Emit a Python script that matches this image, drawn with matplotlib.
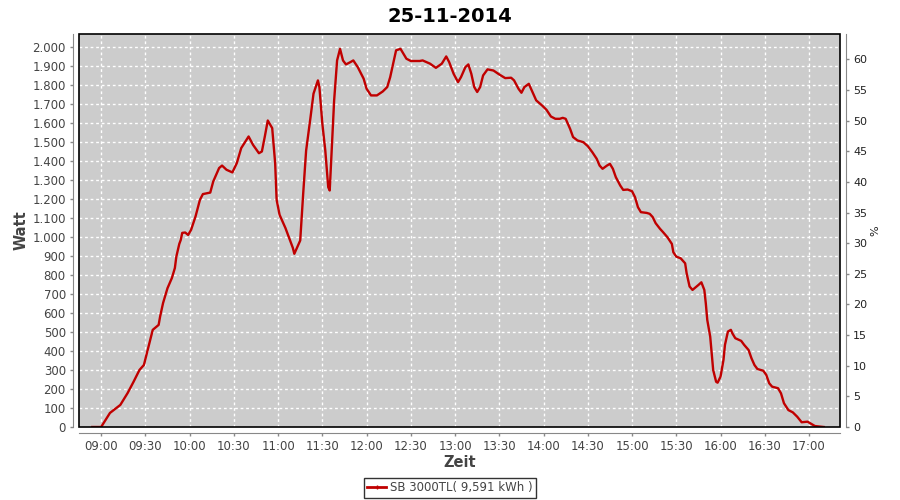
import matplotlib
matplotlib.use("Agg")
import matplotlib.pyplot as plt
from matplotlib.lines import Line2D
from matplotlib.patches import Rectangle
from matplotlib.ticker import FuncFormatter, MultipleLocator

# power readings of the inverter on 25-11-2014 (time of day, watt)
times = [
    "08:54", "09:00", "09:06", "09:13", "09:18", "09:22", "09:26", "09:29",
    "09:31", "09:33", "09:35", "09:39", "09:40", "09:42", "09:45", "09:48",
    "09:50", "09:51", "09:53", "09:54", "09:55", "09:57", "09:59", "10:01",
    "10:04", "10:07", "10:09", "10:14", "10:16", "10:20", "10:22", "10:25",
    "10:29", "10:32", "10:35", "10:40", "10:43", "10:47", "10:49", "10:51",
    "10:53", "10:56", "10:58", "10:59", "11:01", "11:03", "11:05", "11:08",
    "11:10", "11:11", "11:15", "11:17", "11:19", "11:22", "11:24", "11:27",
    "11:28", "11:30", "11:32", "11:34", "11:35", "11:36", "11:38", "11:40",
    "11:42", "11:44", "11:46", "11:49", "11:51", "11:54", "11:58", "12:00",
    "12:03", "12:07", "12:11", "12:14", "12:16", "12:18", "12:20", "12:23",
    "12:25", "12:27", "12:30", "12:36", "12:38", "12:43", "12:47", "12:51",
    "12:54", "12:56", "12:59", "13:02", "13:04", "13:07", "13:09", "13:11",
    "13:13", "13:15", "13:17", "13:19", "13:22", "13:26", "13:30", "13:34",
    "13:38", "13:40", "13:43", "13:45", "13:47", "13:50", "13:52", "13:55",
    "13:59", "14:02", "14:05", "14:08", "14:11", "14:13", "14:15", "14:18",
    "14:20", "14:23", "14:27", "14:30", "14:33", "14:36", "14:38", "14:40",
    "14:43", "14:45", "14:47", "14:49", "14:52", "14:54", "14:57", "15:00",
    "15:02", "15:04", "15:06", "15:10", "15:12", "15:14", "15:16", "15:19",
    "15:21", "15:24", "15:27", "15:28", "15:30", "15:33", "15:36", "15:37",
    "15:39", "15:41", "15:45", "15:47", "15:49", "15:50", "15:51", "15:53",
    "15:54", "15:55", "15:57", "15:58", "16:00", "16:02", "16:03", "16:05",
    "16:07", "16:08", "16:10", "16:14", "16:16", "16:19", "16:21", "16:23",
    "16:25", "16:29", "16:31", "16:33", "16:35", "16:39", "16:41", "16:43",
    "16:46", "16:49", "16:52", "16:55", "16:59", "17:01", "17:04", "17:10",
]
watts = [
    0, 0, 74, 116, 179, 238, 300, 326,
    388, 449, 511, 537, 581, 652, 730, 784,
    836, 896, 963, 984, 1021, 1023, 1010, 1037,
    1107, 1195, 1225, 1233, 1291, 1362, 1375, 1353,
    1339, 1388, 1467, 1528, 1484, 1440, 1449, 1528,
    1612, 1572, 1388, 1195, 1116, 1081, 1046, 984,
    942, 911, 981, 1226, 1454, 1630, 1753, 1823,
    1788, 1595, 1454, 1261, 1244, 1402, 1718, 1928,
    1989, 1928, 1907, 1919, 1928, 1893, 1832, 1779,
    1744, 1744, 1765, 1788, 1840, 1911, 1981, 1989,
    1963, 1937, 1925, 1925, 1928, 1911, 1889, 1911,
    1949, 1919, 1858, 1814, 1840, 1893, 1907, 1858,
    1788, 1762, 1788, 1849, 1881, 1875, 1854, 1835,
    1837, 1823, 1779, 1758, 1788, 1805, 1770, 1718,
    1691, 1668, 1633, 1621, 1621, 1626, 1621, 1568,
    1525, 1507, 1498, 1477, 1446, 1411, 1375, 1358,
    1375, 1384, 1358, 1314, 1270, 1247, 1249, 1240,
    1209, 1156, 1130, 1126, 1121, 1104, 1072, 1042,
    1025, 998, 963, 919, 896, 887, 861, 809,
    739, 721, 747, 761, 721, 651, 563, 475,
    388, 300, 238, 233, 265, 353, 432, 502,
    511, 493, 467, 453, 432, 405, 361, 326,
    305, 296, 274, 230, 212, 204, 177, 125,
    89, 77, 54, 25, 28, 19, 5, 0,
]
title = "25-11-2014"
series_name = "SB 3000TL( 9,591 kWh )"


def to_minutes(hhmm):
    h, m = hhmm.split(":")
    return int(h) * 60 + int(m)


def main():
    x = [to_minutes(t) for t in times]

    fig = plt.figure(figsize=(9, 5), dpi=100)
    ax = fig.add_axes([79 / 900, 1 - 427 / 500, 761 / 900, 393 / 500])
    ax.set_facecolor("#cccccc")

    ax.plot(x, watts, color="#c00000", lw=1.7, zorder=3)

    ax.set_xlim(525, 1041)
    ax.set_ylim(0, 2067)
    ax.set_xticks(range(540, 1021, 30))
    ax.xaxis.set_major_formatter(
        FuncFormatter(lambda v, p: f"{int(v) // 60:02d}:{int(v) % 60:02d}"))
    ax.yaxis.set_major_locator(MultipleLocator(100))
    ax.yaxis.set_major_formatter(
        FuncFormatter(lambda v, p: f"{int(v):,}".replace(",", ".")))

    ax.grid(True, color="white", linestyle=(0, (2, 2)), lw=1)
    ax.set_axisbelow(True)

    grey = "#888888"
    for side in ["left", "bottom"]:
        ax.spines[side].set_position(("outward", 4))
        ax.spines[side].set_color(grey)
    for side in ["top", "right"]:
        ax.spines[side].set_visible(False)
    ax.tick_params(colors=grey, labelcolor="#444444", labelsize=8.5,
                   length=2, width=1)
    ax.add_patch(Rectangle((0, 0), 1, 1, transform=ax.transAxes,
                           fill=False, edgecolor="black", lw=1.2,
                           zorder=5, clip_on=False))

    ax.set_xlabel("Zeit", fontsize=10.5, fontweight="bold", color="#444444",
                  labelpad=1)
    ax.set_ylabel("Watt", fontsize=10.5, fontweight="bold", color="#444444",
                  labelpad=3)

    ax2 = ax.twinx()
    ax2.set_ylim(0, 64.13)
    ax2.yaxis.set_major_locator(MultipleLocator(5))
    for side in ["left", "bottom", "top"]:
        ax2.spines[side].set_visible(False)
    ax2.spines["right"].set_position(("outward", 4))
    ax2.spines["right"].set_color(grey)
    ax2.tick_params(colors=grey, labelcolor="#222222", labelsize=8,
                    length=2, width=1)
    ax2.set_ylabel("%", fontsize=8, color="#222222", labelpad=2)

    fig.suptitle(title, x=0.5, y=0.985, fontsize=14, fontweight="bold")

    handle = Line2D([], [], color="#c00000", lw=2, marker="|",
                    markersize=3)
    fig.legend([handle], [series_name], loc="center",
               bbox_to_anchor=(0.5, 1 - 488 / 500), frameon=True,
               fancybox=False, edgecolor="black", fontsize=8.5,
               labelcolor="#444444", handlelength=1.6, handletextpad=0.3,
               borderpad=0.3, borderaxespad=0)

    fig.savefig("out.png", dpi=100)


if __name__ == "__main__":
    main()
